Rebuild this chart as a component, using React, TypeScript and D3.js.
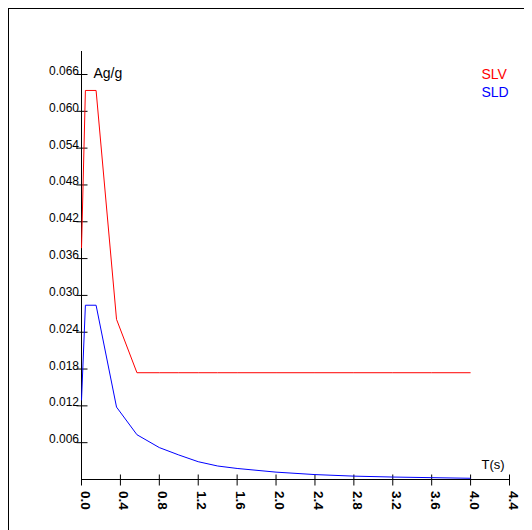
import React, { useEffect } from 'react';
import * as d3 from 'd3';

// periods T(s) and spectral ordinates Ag/g
const periods = [0, 0.04, 0.15, 0.36, 0.57, 0.8, 1.0, 1.2, 1.4, 1.6, 2.0, 2.4, 2.8, 3.2, 3.6, 4.0];
const slv = [0.0377, 0.0634, 0.0634, 0.0261, 0.0174, 0.0174, 0.0174, 0.0174, 0.0174, 0.0174, 0.0174, 0.0174, 0.0174, 0.0174, 0.0174, 0.0174];
const sld = [0.0129, 0.0284, 0.0284, 0.0118, 0.0073, 0.0052, 0.004, 0.0029, 0.0022, 0.0018, 0.0012, 0.0008, 0.00055, 0.0004, 0.0003, 0.0002];

const xTicks = [0, 0.4, 0.8, 1.2, 1.6, 2.0, 2.4, 2.8, 3.2, 3.6, 4.0, 4.4];
const yTicks = [0.006, 0.012, 0.018, 0.024, 0.03, 0.036, 0.042, 0.048, 0.054, 0.06, 0.066];

const seriesNames = ['SLV', 'SLD'];
const seriesColors = ['#ff0000', '#0000ff'];

const font = '"Liberation Sans", Arial, sans-serif';

export default function App() {
  useEffect(() => {
    document.body.style.overflow = 'hidden';
  }, []);

  const x = d3.scaleLinear().domain([0, 4.4]).range([81.5, 509.5]);
  const y = d3.scaleLinear().domain([0, 0.066]).range([479.5, 74.5]);

  const line = d3.line<number>()
    .x((d, i) => x(periods[i]))
    .y((d) => y(d));

  const series = [slv, sld];

  return (
    <svg width={524} height={522} style={{ display: 'block' }}>
      {/* page coordinates */}
      <g transform="translate(-8,-8)">
        <rect x={8.5} y={8.5} width={600} height={600} fill="white" stroke="#000" strokeWidth={1} />

        {/* y axis */}
        <line x1={x(0)} x2={x(0)} y1={51} y2={y(0)} stroke="#000" />
        {yTicks.map((t) => (
          <g key={t}>
            <line x1={x(0) - 5} x2={x(0) + 6} y1={y(t)} y2={y(t)} stroke="#000" />
            <text x={79} y={y(t) + 0.5} textAnchor="end" fontFamily={font} fontSize={12} fill="#000">
              {d3.format('.3f')(t)}
            </text>
          </g>
        ))}

        {/* x axis */}
        <line x1={x(0)} x2={x(4.4)} y1={y(0)} y2={y(0)} stroke="#000" />
        {xTicks.map((t) => (
          <g key={t}>
            <line x1={x(t)} x2={x(t)} y1={y(0) - 5} y2={y(0) + 6} stroke="#000" />
            <text
              transform={`translate(${x(t) - 1},491) rotate(90)`}
              textAnchor="start"
              fontFamily={font}
              fontSize={13.5}
              fontWeight="bold"
              fill="#000"
            >
              {d3.format('.1f')(t)}
            </text>
          </g>
        ))}

        <text x={93.5} y={78} fontFamily={font} fontSize={14} fill="#000">Ag/g</text>
        <text x={481.5} y={469} fontFamily={font} fontSize={13} fill="#000">T(s)</text>

        {series.map((s, i) => (
          <path key={seriesNames[i]} d={line(s) || ''} fill="none" stroke={seriesColors[i]} strokeWidth={1} />
        ))}

        {seriesNames.map((n, i) => (
          <text key={n} x={481.5} y={78.5 + i * 18} fontFamily={font} fontSize={14} fill={seriesColors[i]}>
            {n}
          </text>
        ))}
      </g>
    </svg>
  );
}
